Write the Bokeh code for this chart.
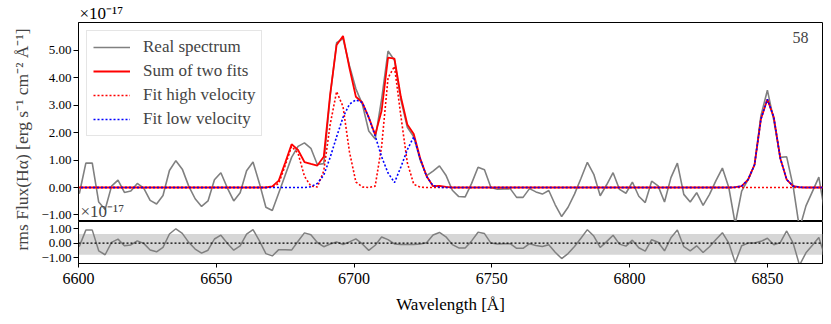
import numpy as np
from bokeh.plotting import figure
from bokeh.layouts import row, column
from bokeh.models import (Legend, LegendItem, Label, BoxAnnotation, Span,
                          FixedTicker, Range1d)
from bokeh.embed import file_html
from bokeh.resources import INLINE

# ---------------- data ----------------
wave_start = 6598.0          # first pixel wavelength [A]
wave_step = 7.0 / 3.0        # pixel size [A]

flux = [
    -0.12, -0.21, 0.89, 0.89, -0.53, -0.80, 0.05, 0.27, -0.18, -0.13,
    0.15, -0.02, -0.47, -0.60, -0.29, 0.62, 0.98, 0.67, 0.05, -0.41,
    -0.69, -0.49, 0.28, 0.54, -0.01, -0.49, -0.19, 0.61, 0.93, 0.15,
    -0.72, -0.84, -0.20, 0.45, 1.10, 1.50, 1.63, 1.43, 0.84, 0.87,
    3.34, 5.28, 5.43, 4.44, 3.60, 3.04, 2.06, 1.77, 3.22, 4.98,
    4.64, 3.20, 2.20, 1.85, 1.00, 0.43, 0.60, 0.79, 0.45, -0.10,
    -0.33, -0.34, 0.15, 0.74, 0.65, 0.00, -0.06, -0.05, -0.04, -0.36,
    -0.36, -0.04, -0.16, -0.24, -0.11, -0.63, -1.06, -0.72, -0.24, 0.33,
    0.92, 0.48, -0.30, 0.10, 0.54, -0.07, -0.21, 0.20, -0.32, -0.55,
    0.23, 0.06, -0.53, 0.36, 0.89, -0.25, -0.53, -0.19, -0.65, -0.25,
    0.25, 0.71, 0.00, -1.33, -0.13, 0.29, 0.83, 2.62, 3.55, 2.45,
    1.10, 1.12, 0.05, -1.50, -0.67, -0.15, 0.38, -1.00,
]

fit_sum = ([0.0] * 31
           + [0.04, 0.25, 0.90, 1.58, 1.37, 0.93, 0.86, 0.80, 1.12, 3.40,
              5.20, 5.53, 4.36, 3.31, 3.10, 2.56, 1.92, 2.80, 4.74, 4.70,
              3.30, 2.30, 1.95, 1.07, 0.41, 0.05, 0.06, 0.02]
           + [0.0] * 44
           + [0.01, 0.05, 0.29, 0.83, 2.50, 3.22, 2.56, 1.07, 0.29, 0.05, 0.01]
           + [0.0] * 4)

fit_high = ([0.0] * 31
            + [0.02, 0.15, 0.80, 1.50, 1.25, 0.41, 0.05, 0.02, 0.60, 2.30,
               3.50, 2.95, 1.30, 0.20, 0.02, 0.00, 0.05, 1.50, 4.00, 4.42,
               2.60, 0.90, 0.12, 0.01]
            + [0.0] * 63)

fit_low = ([0.0] * 37
           + [0.03, 0.15, 0.45, 1.10, 1.85, 2.56, 3.04, 3.20, 3.10, 2.55,
              1.88, 1.12, 0.53, 0.18, 0.75, 1.38, 1.85, 1.05, 0.40, 0.07, 0.01]
           + [0.0] * 45
           + [0.01, 0.05, 0.29, 0.83, 2.50, 3.22, 2.56, 1.07, 0.29, 0.05, 0.01]
           + [0.0] * 4)

rms_band = (-0.80, 0.63)
panel_number = "58"
x_ticks = [6600, 6650, 6700, 6750, 6800, 6850]
flux_ticks = [-1, 0, 1, 2, 3, 4, 5]
resid_ticks = [-1, 0, 1]
scale_text = "\u00d710\u207b\u00b9\u2077"

wave = wave_start + wave_step * np.arange(len(flux))
resid = np.array(flux) - np.array(fit_sum)

# ---------------- styling ----------------
FONT = "Liberation Serif"
XTICK_FS = "16px"
YTICK_FS = "13px"
LAB_FS = "17px"
W0, W1 = 33, 791
BL, BR = 45, 2
DOT = "2 2"


def fmt(t):
    return f"{t:.2f}".replace("-", "\u2212")


def style(p):
    p.outline_line_color = "black"
    p.outline_line_width = 1
    p.outline_line_alpha = 1
    p.background_fill_color = "white"
    p.border_fill_color = "white"
    for g in p.grid:
        g.visible = False
    for ax in p.axis:
        ax.major_tick_in = 0
        ax.major_tick_out = 5
        ax.minor_tick_line_color = None
        ax.major_tick_line_color = "black"
        ax.axis_line_color = "black"
        ax.major_label_text_font = FONT
        ax.major_label_text_color = "black"
        ax.axis_label_text_font = FONT
        ax.axis_label_text_font_size = LAB_FS
        ax.axis_label_text_font_style = "normal"
        ax.axis_label_text_color = "black"
    for ax in p.yaxis:
        ax.major_label_text_font_size = YTICK_FS
        ax.major_label_standoff = 2


# ---------------- top panel ----------------
top = figure(width=W1, height=221, x_range=Range1d(6600, 6870),
             y_range=Range1d(-1.24, 6.02), output_backend="svg",
             toolbar_location=None, x_axis_location=None,
             min_border_left=BL, min_border_right=BR,
             min_border_top=22, min_border_bottom=0)
style(top)
top.title.text = scale_text
top.title.align = "left"
top.title.offset = 1
top.title.standoff = 0
top.title.text_font = FONT
top.title.text_font_size = LAB_FS
top.title.text_font_style = "normal"
top.title.text_color = "black"

top.yaxis.ticker = FixedTicker(ticks=flux_ticks)
top.yaxis.major_label_overrides = {t: fmt(t) for t in flux_ticks}

r_spec = top.line(wave, flux, line_color="gray", line_width=1.6)
r_sum = top.line(wave, fit_sum, line_color="red", line_width=1.8)
r_high = top.line(wave, fit_high, line_color="red", line_width=1.6,
                  line_dash=DOT)
r_low = top.line(wave, fit_low, line_color="blue", line_width=1.6,
                 line_dash=DOT)

legend = Legend(items=[
    LegendItem(label="Real spectrum", renderers=[r_spec]),
    LegendItem(label="Sum of two fits", renderers=[r_sum]),
    LegendItem(label="Fit high velocity", renderers=[r_high]),
    LegendItem(label="Fit low velocity", renderers=[r_low]),
], location="top_left")
legend.margin = 8
legend.padding = 6
legend.spacing = 4
legend.glyph_width = 37
legend.glyph_height = 20
legend.label_height = 20
legend.label_standoff = 13
legend.label_text_font = FONT
legend.label_text_font_size = LAB_FS
legend.border_line_color = "#cccccc"
legend.border_line_width = 1
legend.background_fill_alpha = 0.8
top.add_layout(legend)

# Label screen units are measured from the frame's bottom-left corner
top.add_layout(Label(x=2, y=1, x_units="screen", y_units="screen",
                     text=scale_text, text_font=FONT, text_font_size=LAB_FS,
                     text_baseline="bottom"))
top.add_layout(Label(x=730, y=190, x_units="screen", y_units="screen",
                     text=panel_number, text_font=FONT, text_font_size=XTICK_FS,
                     text_align="right", text_baseline="top"))

# ---------------- bottom panel ----------------
bot = figure(width=W1, height=95, x_range=top.x_range,
             y_range=Range1d(-1.40, 1.48), output_backend="svg",
             toolbar_location=None,
             min_border_left=BL, min_border_right=BR,
             min_border_top=0, min_border_bottom=46)
style(bot)
bot.yaxis.ticker = FixedTicker(ticks=resid_ticks)
bot.yaxis.major_label_overrides = {t: fmt(t) for t in resid_ticks}
bot.xaxis.ticker = FixedTicker(ticks=x_ticks)
bot.xaxis.major_label_text_font_size = XTICK_FS
bot.xaxis.major_tick_out = 4
bot.xaxis.major_label_standoff = 5
bot.xaxis.axis_label = "Wavelength [\u00c5]"
bot.xaxis.axis_label_standoff = 8

bot.add_layout(BoxAnnotation(bottom=rms_band[0], top=rms_band[1],
                             fill_color="#d6d6d6", fill_alpha=1.0,
                             line_color=None, level="underlay"))
bot.line(wave, resid, line_color="gray", line_width=1.5)
bot.add_layout(Span(location=0, dimension="width", line_color="black",
                    line_dash=DOT, line_width=1.3))

# ---------------- shared y label ----------------
lab = figure(width=W0, height=316, output_backend="svg", toolbar_location=None,
             x_axis_location=None, y_axis_location=None,
             x_range=Range1d(0, 1), y_range=Range1d(0, 1),
             min_border=0, outline_line_color=None)
lab.grid.visible = False
lab.add_layout(Label(x=21, y=177, x_units="screen", y_units="screen",
                     text="rms Flux(H\u03b1) [erg s\u207b\u00b9 cm\u207b\u00b2 \u00c5\u207b\u00b9]",
                     angle=np.pi / 2, text_align="center",
                     text_baseline="middle", text_font=FONT,
                     text_font_size="17.5px"))

layout = row(lab, column(top, bot))
open("out.html", "w").write(file_html(layout, INLINE))
